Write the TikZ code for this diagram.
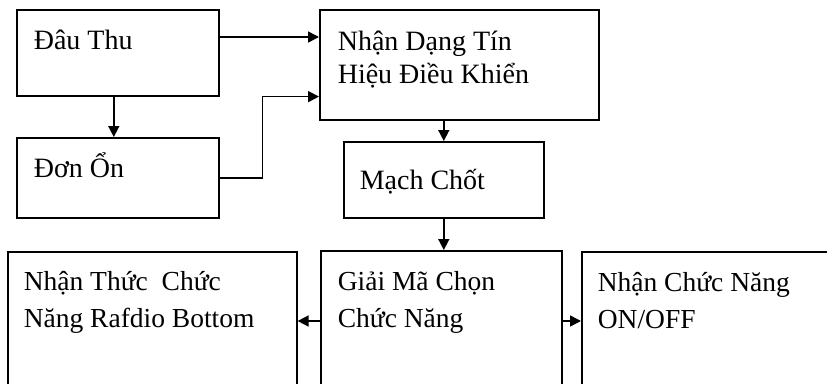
\documentclass[tikz,border=0pt]{standalone}
\usepackage{fontspec}
\setmainfont{Liberation Serif}
\usetikzlibrary{arrows.meta,positioning}

\begin{document}
\begin{tikzpicture}[x=1pt,y=-1pt,line width=1.6pt,
  blk/.style={draw,inner sep=0pt,anchor=north west},
  lbl/.style={anchor=base west,align=left,inner sep=0pt,font=\fontsize{28}{33}\selectfont},
  lbllow/.style={lbl,font=\fontsize{27.5}{37}\selectfont},
  >={Triangle[length=11pt,width=11pt]}]
  \clip (0,0) rectangle (827,383);
  % upper part
  \node[blk,minimum width=202pt,minimum height=86pt] (thu) at (16,9) {};
  \node[blk,minimum width=202pt,minimum height=80pt] (on) at (16,137) {};
  \node[blk,minimum width=279pt,minimum height=110pt] (nhan) at (319,9) {};
  \node[blk,minimum width=200pt,minimum height=76pt] (chot) at (343,141) {};
  % lower part, cut at the bottom edge
  \node[blk,minimum width=289pt,minimum height=200pt] (nthuc) at (7,251) {};
  \node[blk,minimum width=241pt,minimum height=200pt] (giai) at (320,250) {};
  \node[blk,minimum width=259pt,minimum height=200pt] (onoff) at (581,251) {};
  % texts (base = last line)
  \node[lbl] (thu-t) at ([xshift=17pt,yshift=-40pt]thu.north west) {Đâu Thu};
  \node[lbl] (on-t) at ([xshift=17pt,yshift=-40pt]on.north west) {Đơn Ổn};
  \node[lbl] (nhan-t) at ([xshift=18pt,yshift=-74pt]nhan.north west) {Nhận Dạng Tín\\Hiệu Điều Khiển};
  \node[lbl] (chot-t) at ([xshift=16pt,yshift=-48pt]chot.north west) {Mạch Chốt};
  \node[lbllow] (nthuc-t) at ([xshift=16pt,yshift=-76pt]nthuc.north west) {Nhận Thức~ Chức\\Năng Rafdio Bottom};
  \node[lbllow] (giai-t) at ([xshift=17pt,yshift=-77pt]giai.north west) {Giải Mã Chọn\\Chức Năng};
  \node[lbllow] (onoff-t) at ([xshift=16pt,yshift=-77pt]onoff.north west) {Nhận Chức Năng\\ON/OFF};
  % connectors
  \draw[->] ([yshift=-28pt]thu.north east) -- ([yshift=-28pt]nhan.north west);
  \draw[->] ([xshift=-4pt]thu.south) -- ([xshift=-4pt]on.north);
  \draw[->] (on.east) -- ++(43,0) |- ([yshift=24pt]nhan.south west);
  \draw[->] (chot.north |- nhan.south) -- (chot.north);
  \draw[->] (chot.south) -- (chot.south |- giai.north);
  \draw[->] ([yshift=-71pt]giai.north west) -- ([yshift=-71pt]giai.north west -| nthuc.east);
  \draw[->] ([yshift=-71pt]giai.north east) -- ([yshift=-71pt]giai.north east -| onoff.west);
\end{tikzpicture}
\end{document}
